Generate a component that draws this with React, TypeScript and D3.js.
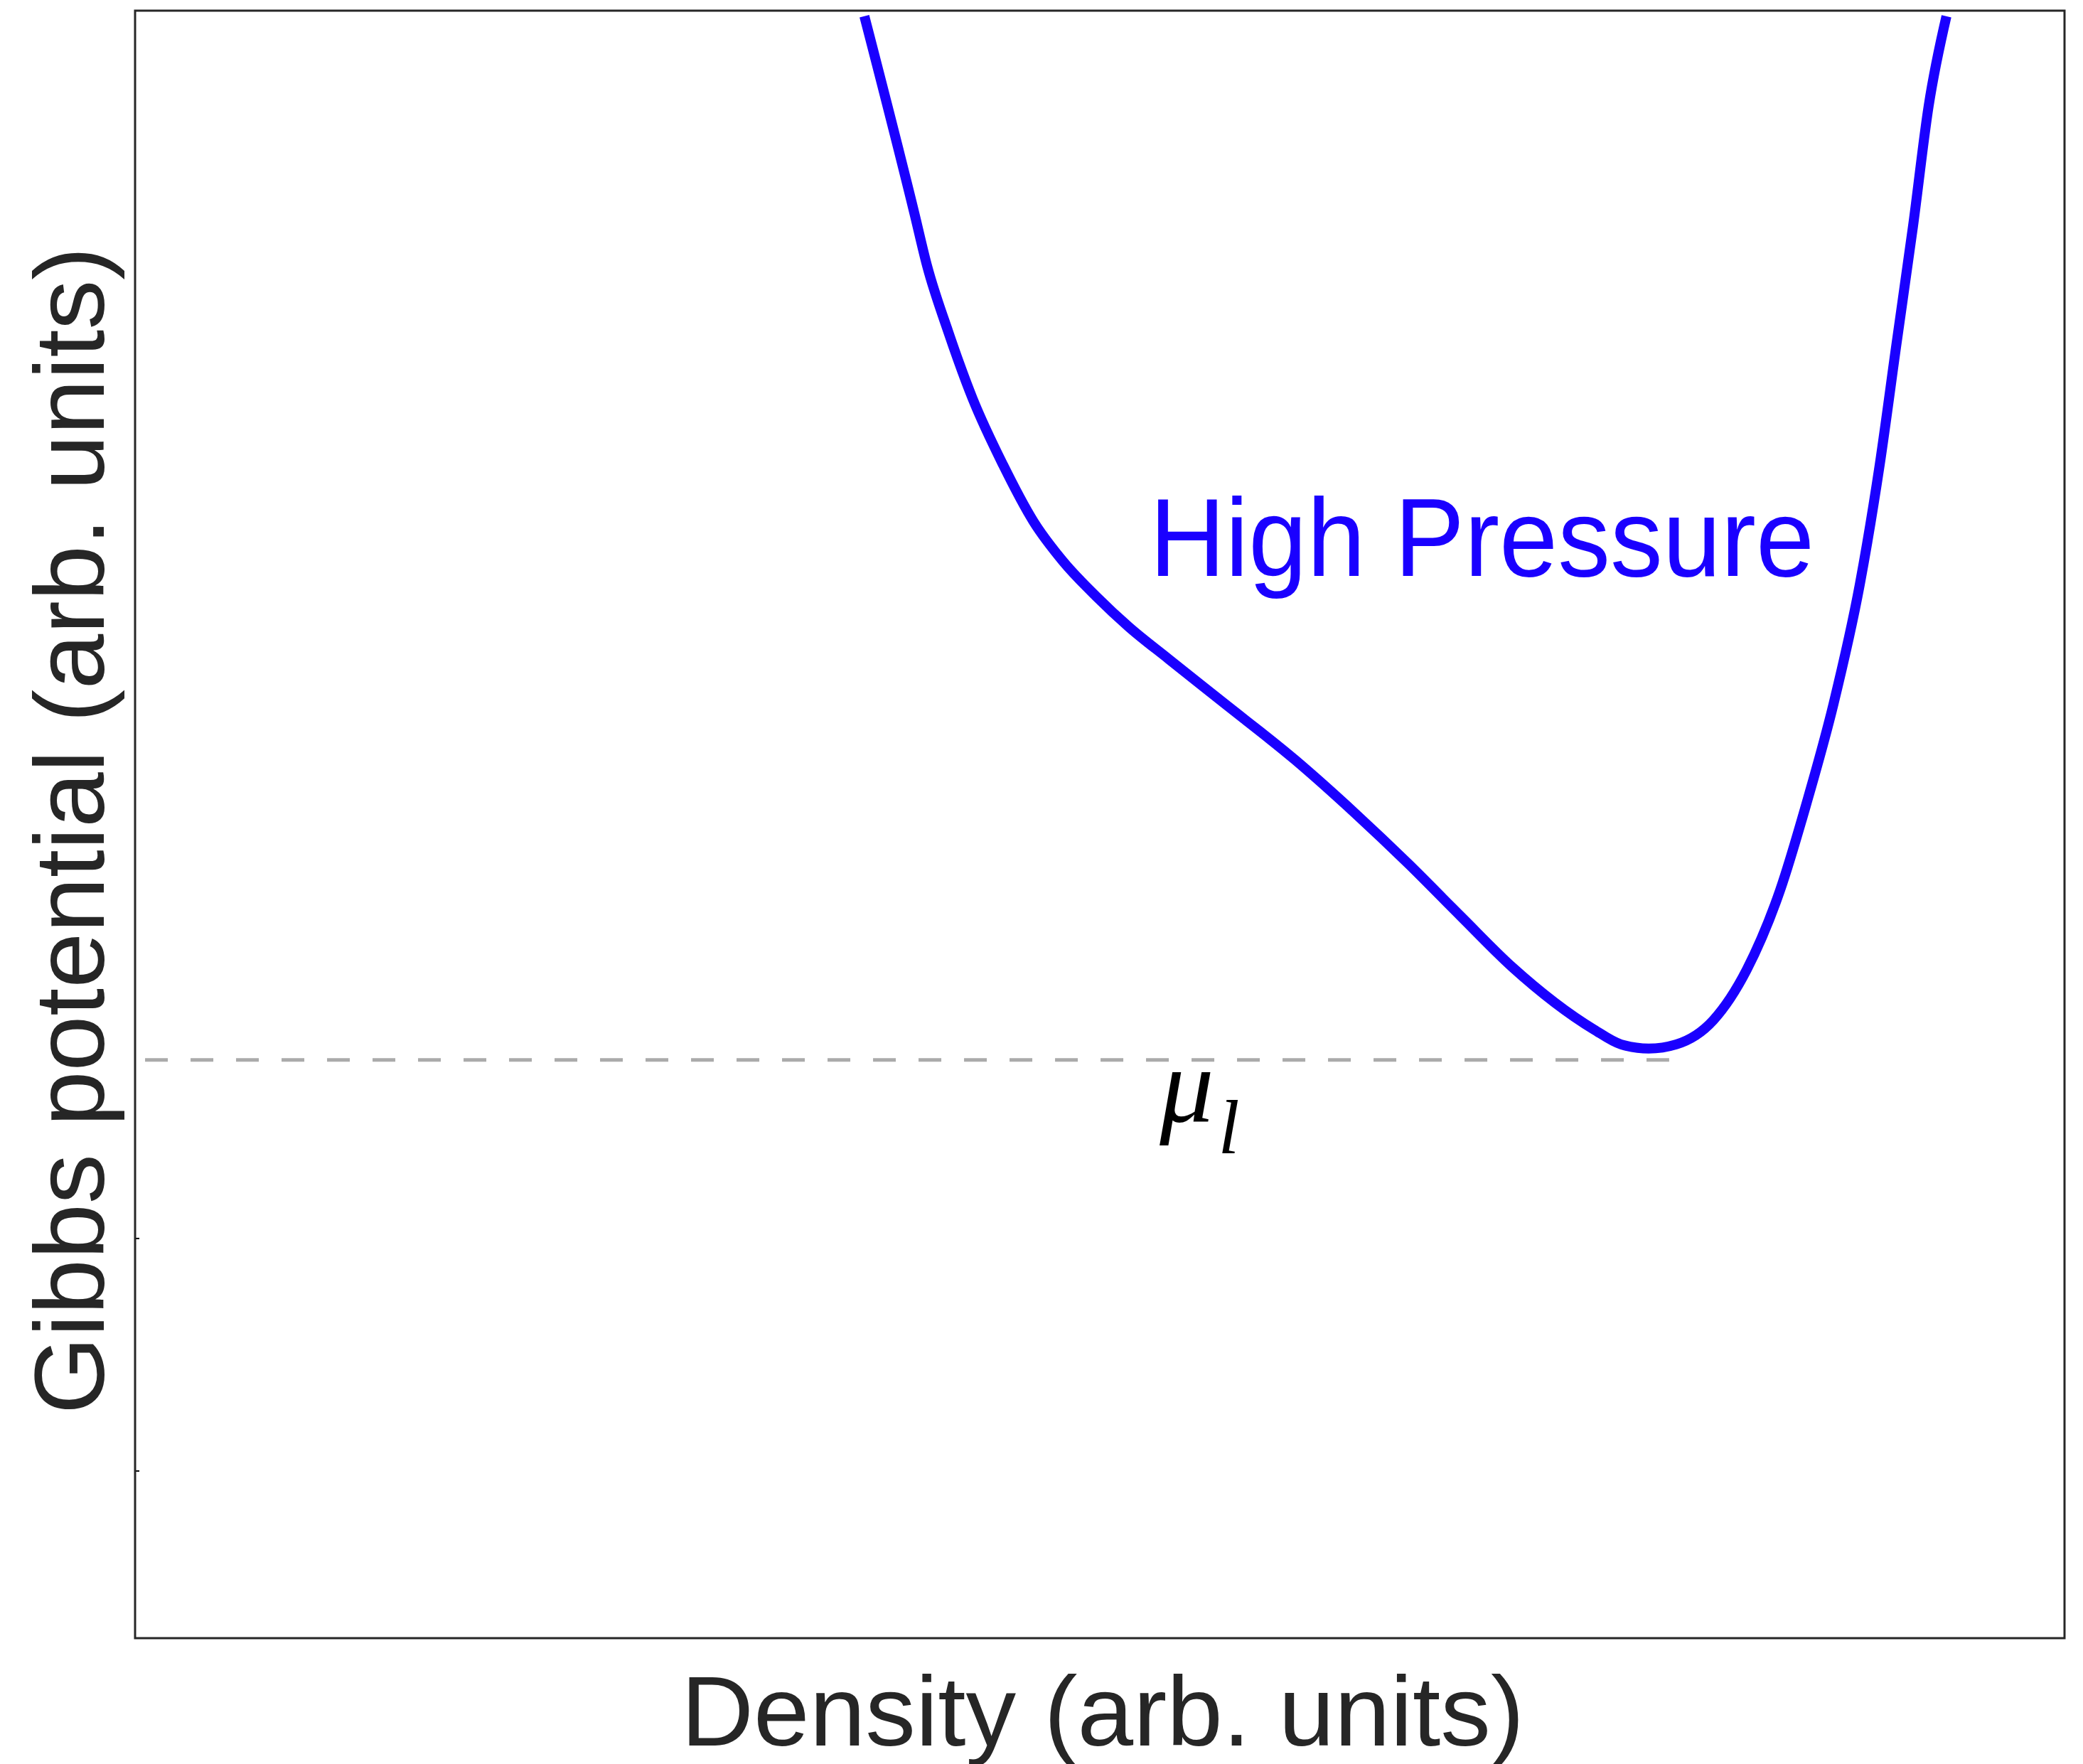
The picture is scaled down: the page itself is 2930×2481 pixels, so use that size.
import React from "react";
import * as d3 from "d3";

// Density (arb. units) and Gibbs potential (arb. units) of the high-pressure curve
const densityValues = [
  3.780, 4.038, 4.105, 4.215, 4.341, 4.499, 4.657, 4.808, 4.982, 5.151, 5.357,
  5.634, 6.013, 6.323, 6.599, 6.872, 7.137, 7.561, 7.701, 7.845, 7.988, 8.180,
  8.353, 8.526, 8.662, 8.803, 8.939, 9.042, 9.130, 9.215, 9.296, 9.388,
];
const gibbsValues = [
  4.257, 3.413, 3.183, 2.899, 2.612, 2.327, 2.083, 1.914, 1.761, 1.630, 1.492,
  1.309, 1.058, 0.829, 0.612, 0.385, 0.168, -0.101, -0.165, -0.183, -0.165, -0.061,
  0.156, 0.498, 0.869, 1.300, 1.813, 2.327, 2.853, 3.355, 3.872, 4.257,
];
const muLevel = -0.232;
const muLineX = [-0.184, 7.951];
const yTickValues = [-1, -2];
const xDomain = [0, 10];
const yDomain = [-2.719, 4.281];
const curveLabel = "High Pressure";
const curveLabelPos = [5.258, 1.85];
const muLabelPos = [5.31, -0.498];
const xLabel = "Density (arb. units)";
const yLabel = "Gibbs potential (arb. units)";

const W = 2930;
const H = 2481;
const L = 190, T = 15, R = 2904, B = 2304;
const BLUE = "#1a00ff";
const DARK = "#262626";

export default function App() {
  const x = d3.scaleLinear().domain(xDomain).range([L, R]);
  const y = d3.scaleLinear().domain(yDomain).range([B, T]);
  const pts = densityValues.map((d, i) => [d, gibbsValues[i]] as [number, number]);
  const line = d3
    .line<[number, number]>()
    .x((d) => x(d[0]))
    .y((d) => y(d[1]))
    .curve(d3.curveMonotoneX);
  const font = "'Liberation Sans', Arial, Helvetica, sans-serif";
  return (
    <svg
      width={W}
      height={H}
      viewBox={`0 0 ${W} ${H}`}
      style={{ position: "absolute", left: 0, top: 0, background: "#fff" }}
    >
      <defs>
        <clipPath id="plotclip">
          <rect x={L} y={T} width={R - L} height={B - T} />
        </clipPath>
      </defs>
      <rect x={0} y={0} width={W} height={H} fill="#fff" />
      <g clipPath="url(#plotclip)">
        <line
          x1={x(muLineX[0])}
          x2={x(muLineX[1])}
          y1={y(muLevel)}
          y2={y(muLevel)}
          stroke="#aaaaaa"
          strokeWidth={5}
          strokeDasharray="32,32"
        />
        <path d={line(pts) || ""} fill="none" stroke={BLUE} strokeWidth={14} strokeLinejoin="round" />
      </g>
      {yTickValues.map((v) => (
        <line key={v} x1={L} x2={L + 6} y1={y(v)} y2={y(v)} stroke="#000" strokeWidth={2} />
      ))}
      <rect x={L} y={T} width={R - L} height={B - T} fill="none" stroke={DARK} strokeWidth={3} />
      <text
        x={x(curveLabelPos[0])}
        y={y(curveLabelPos[1])}
        fill={BLUE}
        fontFamily={font}
        fontSize={155}
        textLength={935}
        lengthAdjust="spacingAndGlyphs"
      >
        {curveLabel}
      </text>
      <text
        x={x(muLabelPos[0])}
        y={y(muLabelPos[1])}
        fill="#000"
        fontFamily="'Liberation Serif', 'Times New Roman', serif"
        fontStyle="italic"
        fontSize={152}
      >
        μ
        <tspan dx={6} dy={44} fontSize={108}>
          l
        </tspan>
      </text>
      <text
        x={(L + R) / 2 + 4}
        y={2455}
        fill={DARK}
        fontFamily={font}
        fontSize={139}
        textAnchor="middle"
        textLength={1186}
        lengthAdjust="spacingAndGlyphs"
      >
        {xLabel}
      </text>
      <text
        transform={`translate(146, ${1168}) rotate(-90)`}
        fill={DARK}
        fontFamily={font}
        fontSize={140}
        textAnchor="middle"
      >
        {yLabel}
      </text>
    </svg>
  );
}
